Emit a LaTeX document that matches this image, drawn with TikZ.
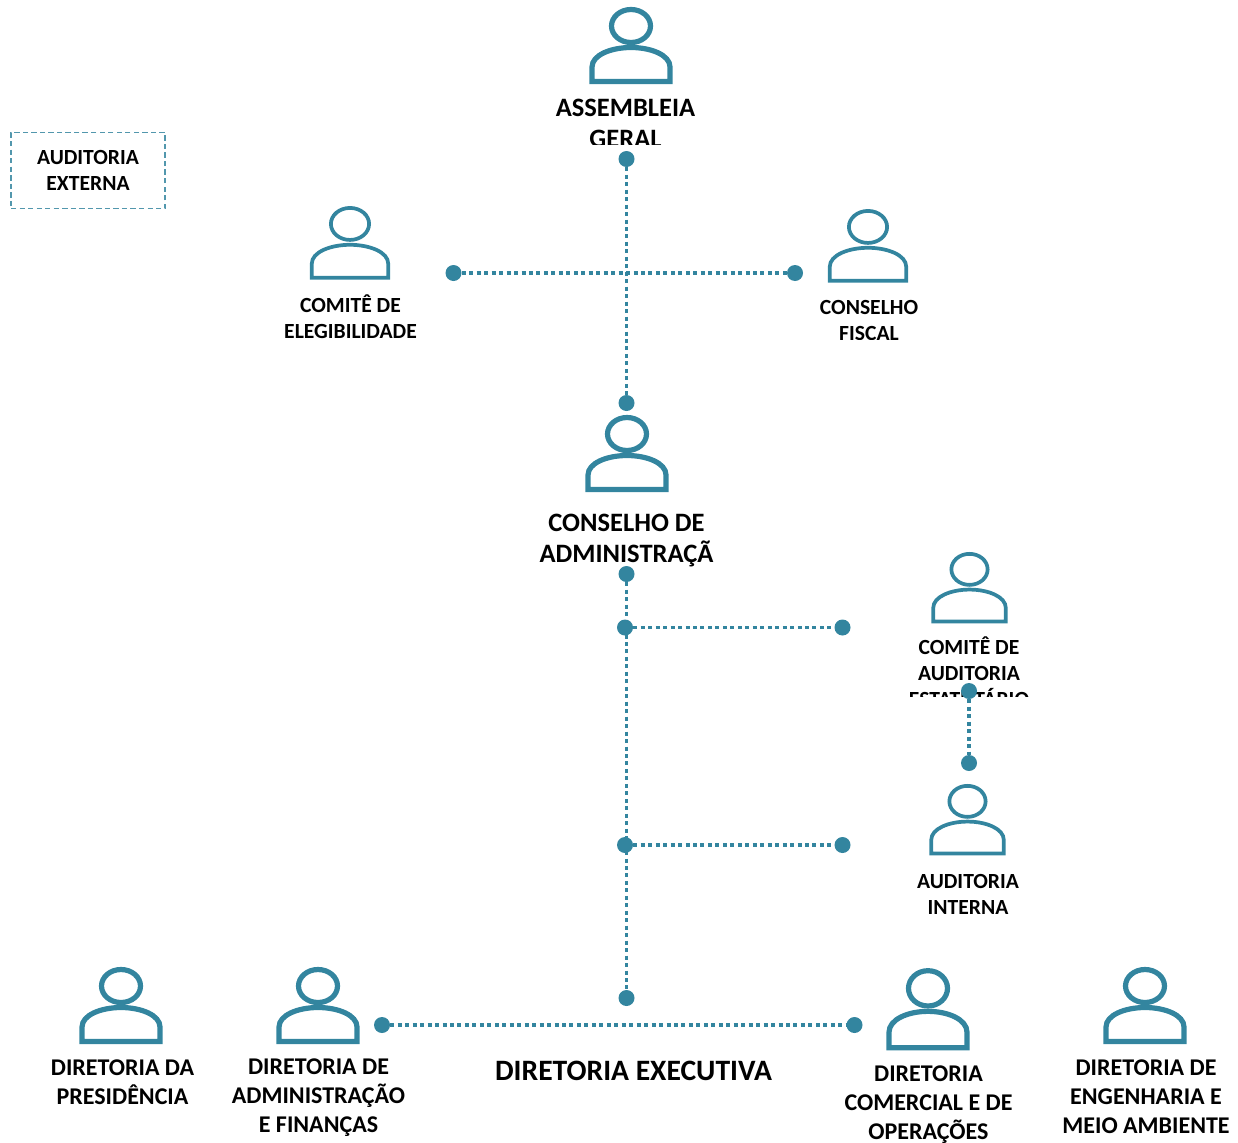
\documentclass[tikz,border=0pt]{standalone}
\usepackage{fontspec}
\setmainfont{Carlito}
\definecolor{teal1}{HTML}{33859F}
\tikzset{
  pics/person/.style={
    code={
      \draw[teal1] (0,19) ellipse (19.5 and 16.5);
      \draw[teal1] (-39,74.5) -- (-39,60) .. controls (-39,48) and (-20,40.5) .. (0,40.5)
        .. controls (20,40.5) and (39,48) .. (39,60) -- (39,74.5) -- cycle;
    }
  }
}
\begin{document}
\begin{tikzpicture}[
    x=0.75pt, y=-0.75pt,
    bigicon/.style={line width=3.9pt},
    smallicon/.style={line width=2.8pt},
    dot/.style={
      circle,
      fill=teal1,
      inner sep=0pt,
      minimum size=12pt
    },
    link/.style={
      draw=teal1,
      line width=2.8pt,
      dash pattern=on 3pt off 2.6pt
    },
    smalllabel/.style={
      align=center,
      inner sep=0pt,
      font=\bfseries\fontsize{16.2}{19.5}\selectfont
    },
    midlabel/.style={
      align=center,
      inner sep=0pt,
      font=\bfseries\fontsize{18}{21.7}\selectfont
    },
    biglabel/.style={
      align=center,
      inner sep=0pt,
      font=\bfseries\fontsize{19.9}{23.2}\selectfont
    },
    extbox/.style={
      draw=teal1!85,
      dash pattern=on 4pt off 2.4pt,
      line width=0.9pt,
      minimum width=115.5pt,
      minimum height=57pt,
      align=center,
      inner sep=0pt,
      font=\bfseries\fontsize{16.2}{19.5}\selectfont
    }
  ]
    \useasboundingbox (0,0) rectangle (1238,1142);

    % icons
    \pic[bigicon] (assembleia) at (631,7) {person};
    \pic[smallicon, xscale=0.98, yscale=0.97] (elegibilidade) at (350,205.5) {person};
    \pic[smallicon, xscale=0.98, yscale=0.97] (fiscal) at (868,208.5) {person};
    \pic[bigicon] (conselho) at (627,415) {person};
    \pic[smallicon, xscale=0.93, yscale=0.94] (comite) at (969.5,551.5) {person};
    \pic[smallicon, xscale=0.93, yscale=0.94] (interna) at (967.5,783.5) {person};
    \pic[bigicon] (presidencia) at (121,967) {person};
    \pic[bigicon] (administracao) at (318,967) {person};
    \pic[bigicon, yscale=1.07] (comercial) at (928,968) {person};
    \pic[bigicon] (engenharia) at (1145,967) {person};

    % labels, some cut off by their box
    \begin{scope}
      \clip (500,90) rectangle (750,144);
      \node[biglabel] (assembleiaL) at (625.5,123.5) {ASSEMBLEIA\\GERAL};
    \end{scope}
    \node[smalllabel] (elegibilidadeL) at (350.5,317) {COMITÊ DE\\ELEGIBILIDADE};
    \begin{scope}
      \clip (780,290) rectangle (960,339);
      \node[smalllabel] (fiscalL) at (869,320.5) {CONSELHO\\FISCAL};
    \end{scope}
    \begin{scope}
      \clip (500,505) rectangle (750,567);
      \node[biglabel] (conselhoL) at (626.5,553.5) {CONSELHO DE\\ADMINISTRAÇÃ\\O};
    \end{scope}
    \begin{scope}
      \clip (880,630) rectangle (1060,696);
      \node[smalllabel] (comiteL) at (969,672) {COMITÊ DE\\AUDITORIA\\ESTATUTÁRIO};
    \end{scope}
    \begin{scope}
      \clip (880,865) rectangle (1060,913);
      \node[smalllabel] (internaL) at (968,894) {AUDITORIA\\INTERNA};
    \end{scope}
    \node[midlabel] (presidenciaL) at (122.5,1082.5) {DIRETORIA DA\\PRESIDÊNCIA};
    \node[midlabel] (administracaoL) at (318.5,1098) {DIRETORIA DE\\ADMINISTRAÇÃO\\E FINANÇAS};
    \node[midlabel] (comercialL) at (928.5,1105) {DIRETORIA\\COMERCIAL E DE\\OPERAÇÕES};
    \node[midlabel] (engenhariaL) at (1146,1097) {DIRETORIA DE\\ENGENHARIA E\\MEIO AMBIENTE};
    \node[font=\bfseries\fontsize{22.2}{26}\selectfont, inner sep=0pt] (executiva) at (633.5,1070.5) {DIRETORIA EXECUTIVA};
    \node[extbox] (externa) at (88,170.5) {AUDITORIA\\EXTERNA};

    % dots
    \node[dot] (agTop) at (626.5,159) {};
    \node[dot] (caTop) at (626.5,403) {};
    \node[dot] (eleg) at (453.5,273) {};
    \node[dot] (fisc) at (795,273) {};
    \node[dot] (caBottom) at (626.5,574) {};
    \node[dot] (branchA) at (625,627.5) {};
    \node[dot] (branchAEnd) at (842.5,627.5) {};
    \node[dot] (branchB) at (625,845) {};
    \node[dot] (branchBEnd) at (842.5,845) {};
    \node[dot] (dirTop) at (626.5,998) {};
    \node[dot] (audTop) at (969,691) {};
    \node[dot] (audBottom) at (969,763) {};
    \node[dot] (dirLeft) at (382,1025) {};
    \node[dot] (dirRight) at (854.5,1025) {};

    % connectors
    \path[link]
      (agTop) -- (caTop)
      (eleg) -- (fisc)
      (caBottom) -- (dirTop)
      (branchA) -- (branchAEnd)
      (branchB) -- (branchBEnd)
      (audTop) -- (audBottom)
      (dirLeft) -- (dirRight);
  \end{tikzpicture}
\end{document}
